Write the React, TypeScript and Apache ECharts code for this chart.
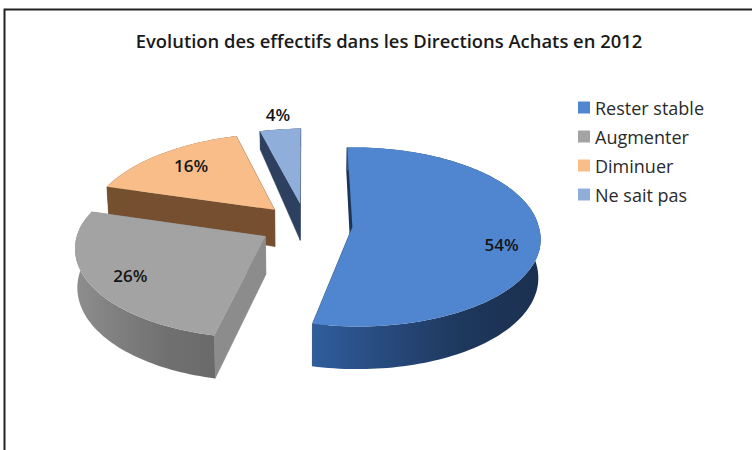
import React, { useEffect, useRef } from "react";
import * as echarts from "echarts";

const titleText = "Evolution des effectifs dans les Directions Achats en 2012";
const categories = ["Rester stable", "Augmenter", "Diminuer", "Ne sait pas"];
const values = [54, 26, 16, 4];

const topColors = ["#5086D0", "#A3A3A3", "#F8BD88", "#8FAEDA"];
const arcWallStops = [
  ["#2F5E9C", "#27497C", "#1E375C", "#1B3050"],
  ["#8E8E8E", "#7E7E7E", "#707070", "#6A6A6A"],
  ["#74502F", "#74502F", "#74502F", "#74502F"],
  ["#2C3F5E", "#2C3F5E", "#2C3F5E", "#2C3F5E"],
];
const edgeWallColors = ["#1D3557", "#8C8C8C", "#754F2F", "#2D405F"];
const labelRadius = [0.79, 0.8, 0.7, 1.3];
const labelNudge = [[1, 11], [3, 1], [-2, -4], [3, 5]];

const CX = 306, CY = 225, RX = 186, RY = 88, K = 0.11, EXPLODE = 0.25, ROT = -1.8, LEAN = 5;
const D2R = Math.PI / 180;
const total = values.reduce((a, b) => a + b, 0);

function wallH(z: number) {
  return 36.5 - 4.8 * (z - 0.25) - 14 * Math.max(0, z - 0.25);
}

function renderSlice(index: number) {
  return (_params: any, api: any) => {
    const val = api.value(0);
    let before = 0;
    for (let i = 0; i < index; i++) before += values[i];
    const a0 = ROT + (before / total) * 360;
    const a1 = a0 + (val / total) * 360;
    const mid = (a0 + a1) / 2;
    const ex = EXPLODE * Math.sin(mid * D2R);
    const ez = EXPLODE * Math.cos(mid * D2R);
    const proj = (r: number, deg: number, low: boolean) => {
      const x = r * Math.sin(deg * D2R) + ex;
      const z = r * Math.cos(deg * D2R) + ez;
      const s = 1 / (1 + K * z);
      const px = CX + RX * x * s * (low ? 0.99 : 1) + LEAN * Math.max(z, 0);
      return [px, CY - RY * z * s + (low ? wallH(z) : 0)];
    };
    const arc = (low: boolean) => {
      const pts: number[][] = [];
      const n = Math.max(4, Math.ceil((a1 - a0) / 1.5));
      for (let i = 0; i <= n; i++) pts.push(proj(1, a0 + ((a1 - a0) * i) / n, low));
      return pts;
    };
    const top = arc(false);
    const bottom = arc(true);
    const stops = arcWallStops[index];
    const grad = {
      type: "linear", x: 0, y: 0, x2: 1, y2: 0,
      colorStops: stops.map((c, i) => ({ offset: i / (stops.length - 1), color: c })),
    };
    const edge = edgeWallColors[index];
    const radial = (deg: number, lw: number) => ({
      type: "polygon",
      shape: { points: [proj(0, 0, false), proj(1, deg, false), proj(1, deg, true), proj(0, 0, true)] },
      style: { fill: edge, stroke: edge, lineWidth: lw },
    });
    const lp = proj(labelRadius[index], mid, false);
    return {
      type: "group",
      children: [
        radial(a1, 0.5),
        radial(a0, index === 0 ? 1.6 : 0.5),
        {
          type: "polygon",
          shape: { points: top.concat(bottom.slice().reverse()) },
          style: { fill: grad },
        },
        {
          type: "polygon",
          shape: { points: [proj(0, 0, false)].concat(top) },
          style: { fill: topColors[index] },
        },
        {
          type: "text",
          z2: 10,
          style: {
            text: Math.round(val) + "%",
            x: lp[0] + labelNudge[index][0],
            y: lp[1] + labelNudge[index][1],
            fill: "#151515",
            fontSize: 17,
            fontWeight: 600,
            fontFamily: "Open Sans",
            textAlign: "center",
            textVerticalAlign: "middle",
          },
        },
      ],
    };
  };
}

export default function App() {
  const ref = useRef<HTMLDivElement>(null);
  useEffect(() => {
    const chart = echarts.init(ref.current!, null, { renderer: "svg" });
    chart.setOption({
      animation: false,
      backgroundColor: "#ffffff",
      title: {
        text: titleText,
        left: 384, top: 26, textAlign: "center",
        textStyle: { fontFamily: "Open Sans", fontSize: 18.4, fontWeight: 600, color: "#1a1a1a" },
      },
      legend: {
        orient: "vertical",
        left: 573, top: 93.5,
        itemWidth: 12, itemHeight: 12, itemGap: 11,
        icon: "rect",
        data: categories,
        textStyle: { fontFamily: "Open Sans", fontSize: 18, color: "#2a2a2a" },
      },
      graphic: [
        {
          type: "polyline",
          shape: { points: [[4.5, 450], [4.5, 9.5], [752, 9.5]] },
          style: { fill: "none", stroke: "#222222", lineWidth: 2 },
          silent: true,
        },
      ],
      series: categories.map((name, i) => ({
        type: "custom",
        name,
        coordinateSystem: "none",
        z: 2 + (i === 0 ? 3 : i === 1 ? 2 : i === 2 ? 1 : 0),
        itemStyle: { color: topColors[i] },
        data: [[values[i]]],
        renderItem: renderSlice(i),
      })),
    });
    return () => chart.dispose();
  }, []);
  return <div ref={ref} style={{ position: "absolute", left: 0, top: 0, width: 752, height: 450 }} />;
}
